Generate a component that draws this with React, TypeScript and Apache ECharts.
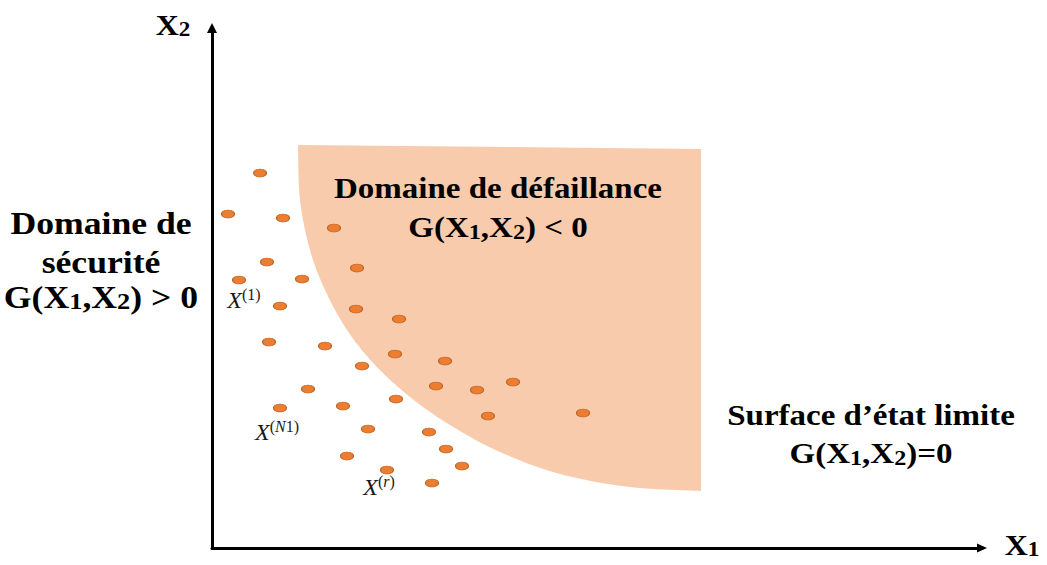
import React, { useEffect, useRef } from "react";
import * as echarts from "echarts";

// ---------- data (diagram units: X1 along the horizontal axis, X2 along the vertical axis) ----------
const axisX1Max = 770;
const axisX2Max = 520;

// sampled points X^(i)
const sampleX1 = [48, 16, 71, 122, 55, 27, 90, 145, 68, 144, 187, 57, 113, 183, 233, 150, 96, 224, 265, 301, 68, 131, 184, 276, 371, 156, 217, 234, 135, 250, 175, 220];
const sampleX2 = [375, 334, 330, 320, 286, 268, 269, 280, 242, 239, 229, 206, 202, 194, 187, 182, 159, 162, 158, 166, 140, 142, 149, 132, 135, 119, 116, 99, 92, 82, 78, 65];

// points that carry a name, and the superscript of that name
const namedPointIndex = [5, 20, 30];
const namedPointSup = ["(1)", "(N1)", "(r)"];

// failure domain: top-right corner, then limit-state surface G(X1,X2)=0 from bottom-right to top-left
const failureTopRight = [489, 399];
const limitStateX1 = [489, 418, 348, 288, 238, 198, 163, 135, 113, 98, 88, 86];
const limitStateX2 = [57, 61, 74, 96, 123, 151, 183, 218, 258, 298, 348, 403];

// annotation texts
const failureLines = ["Domaine de défaillance", "G(X1,X2) < 0"];
const safetyLines = ["Domaine de", "sécurité", "G(X1,X2) > 0"];
const limitLines = ["Surface d’état limite", "G(X1,X2)=0"];
const axisNameX1 = "X1";
const axisNameX2 = "X2";

// ---------- styles ----------
const SERIF = "'Liberation Serif', 'Times New Roman', Times, serif";
const GRID = { left: 212, right: 65, top: 28, bottom: 17 };
const LABEL_OFFSETS: number[][] = [[5, 19], [-3, 23], [-8, 16]];

function catmull(pts: number[][], steps: number): number[][] {
  const out: number[][] = [];
  const n = pts.length;
  for (let i = 0; i < n - 1; i++) {
    const p0 = pts[Math.max(0, i - 1)];
    const p1 = pts[i];
    const p2 = pts[i + 1];
    const p3 = pts[Math.min(n - 1, i + 2)];
    for (let s = 0; s < steps; s++) {
      const t = s / steps;
      const t2 = t * t;
      const t3 = t2 * t;
      const f = (a: number, b: number, c: number, d: number) =>
        0.5 * (2 * b + (-a + c) * t + (2 * a - 5 * b + 4 * c - d) * t2 + (-a + 3 * b - 3 * c + d) * t3);
      out.push([f(p0[0], p1[0], p2[0], p3[0]), f(p0[1], p1[1], p2[1], p3[1])]);
    }
  }
  out.push(pts[n - 1]);
  return out;
}

function formula(s: string): string {
  return s
    .split(/(X\d)/)
    .filter((p) => p.length > 0)
    .map((p) => (/^X\d$/.test(p) ? `{b|X}{d|${p[1]}}` : `{b|${p}}`))
    .join("");
}

function textLine(txt: string, cx: number, cy: number, size: number, sx: number, extra: number) {
  const dsize = Math.round(size * 0.73);
  const lh = size + extra;
  return {
    type: "text",
    x: cx,
    y: cy,
    scaleX: sx,
    z: 100,
    silent: true,
    style: {
      text: formula(txt),
      align: "center",
      verticalAlign: "middle",
      fill: "#000",
      rich: {
        b: { fontFamily: SERIF, fontWeight: "bold", fontSize: size, lineHeight: lh, verticalAlign: "bottom", fill: "#000" },
        d: {
          fontFamily: SERIF,
          fontWeight: "bold",
          fontSize: dsize,
          lineHeight: lh - 2 * 0.3 * (size - dsize),
          verticalAlign: "bottom",
          fill: "#000",
        },
      },
    },
  };
}

function supFormatter(sup: string): string {
  const parts = sup.split(/([A-Za-z])/).filter((p) => p.length > 0);
  return "{x|X}" + parts.map((p) => (/^[A-Za-z]$/.test(p) ? `{si|${p}}` : `{s|${p}}`)).join("");
}

export default function App() {
  const ref = useRef<HTMLDivElement>(null);

  useEffect(() => {
    if (!ref.current) return;
    const chart = echarts.init(ref.current, undefined, { renderer: "svg" });

    const scatterData = sampleX1.map((x, i) => {
      const k = namedPointIndex.indexOf(i);
      if (k < 0) return { value: [x, sampleX2[i]] };
      return {
        value: [x, sampleX2[i]],
        label: {
          show: true,
          position: "inside",
          offset: LABEL_OFFSETS[k],
          formatter: supFormatter(namedPointSup[k]),
          rich: {
            x: { fontFamily: SERIF, fontStyle: "italic", fontSize: 24, lineHeight: 26, color: "#1a1a1a", verticalAlign: "bottom" },
            s: { fontFamily: SERIF, fontSize: 16, lineHeight: 16, color: "#1a1a1a", verticalAlign: "top" },
            si: { fontFamily: SERIF, fontStyle: "italic", fontSize: 16, lineHeight: 16, color: "#1a1a1a", verticalAlign: "top" },
          },
        },
      };
    });

    const graphics: any[] = [];
    failureLines.forEach((t, i) => graphics.push(textLine(t, 498, 183 + i * 39, 30, 1.1, 10)));
    const safetyY = [218, 257, 292];
    safetyLines.forEach((t, i) => graphics.push(textLine(t, 101, safetyY[i], 31, 1.15, 10)));
    limitLines.forEach((t, i) => graphics.push(textLine(t, 871, 410 + i * 38, 30, 1.1, 10)));
    graphics.push(textLine(axisNameX2, 173, 24, 29, 1.1, 2));
    graphics.push(textLine(axisNameX1, 1022, 544, 29, 1.1, 2));

    const option: any = {
      animation: false,
      backgroundColor: "#ffffff",
      grid: GRID,
      xAxis: {
        type: "value",
        min: 0,
        max: axisX1Max,
        axisLine: {
          show: true,
          onZero: false,
          symbol: ["none", "triangle"],
          symbolSize: [9, 10],
          lineStyle: { color: "#000", width: 3 },
        },
        axisTick: { show: false },
        axisLabel: { show: false },
        splitLine: { show: false },
      },
      yAxis: {
        type: "value",
        min: 0,
        max: axisX2Max,
        axisLine: {
          show: true,
          onZero: false,
          symbol: ["none", "triangle"],
          symbolSize: [10, 10],
          lineStyle: { color: "#000", width: 3 },
        },
        axisTick: { show: false },
        axisLabel: { show: false },
        splitLine: { show: false },
      },
      graphic: { elements: graphics },
      series: [
        {
          type: "custom",
          silent: true,
          z: 1,
          data: [[0, 0]],
          renderItem: (_params: any, api: any) => {
            const curve = limitStateX1.map((x, i) => api.coord([x, limitStateX2[i]]));
            const pts = [api.coord(failureTopRight), ...catmull(curve, 12)];
            return {
              type: "polygon",
              shape: { points: pts },
              style: { fill: "#F8CBAD", stroke: null },
            };
          },
        },
        {
          type: "scatter",
          z: 3,
          symbol: "circle",
          symbolSize: [13, 8],
          itemStyle: { color: "#ED7D31", borderColor: "#B9611F", borderWidth: 0.8, opacity: 1 },
          label: { show: false },
          emphasis: { disabled: true },
          data: scatterData,
        },
      ],
    };

    chart.setOption(option);
    return () => chart.dispose();
  }, []);

  return <div ref={ref} style={{ position: "absolute", left: 0, top: 0, width: 1047, height: 565 }} />;
}
